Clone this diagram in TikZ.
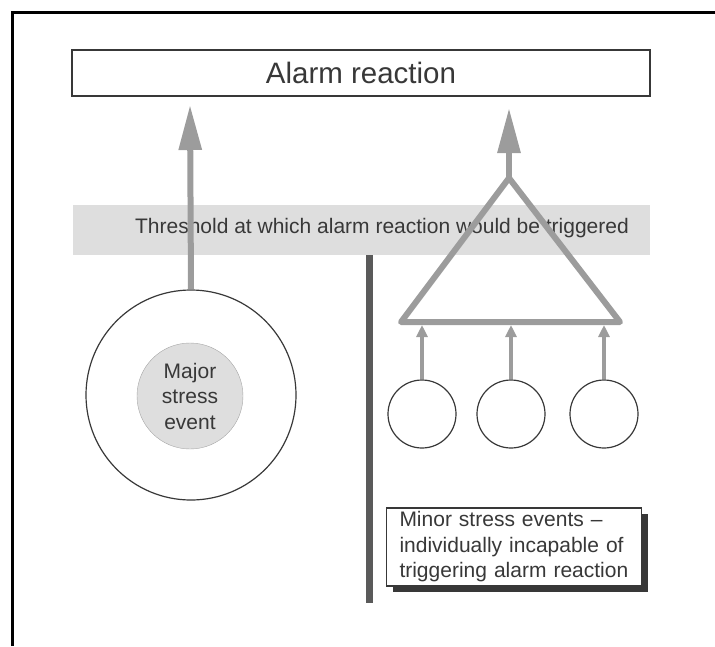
\documentclass[tikz,border=0pt]{standalone}
\usepackage{fontspec}
\setmainfont{Liberation Sans}
\usepackage{tikz}
\usetikzlibrary{arrows.meta,positioning,shadows}
\definecolor{ink}{HTML}{383838}
\definecolor{hatch}{HTML}{9C9C9C}
\definecolor{bandgray}{HTML}{DEDEDE}
\definecolor{bargray}{HTML}{5A5A5A}
\tikzset{
  alarmbox/.style={ draw=ink, line width=2pt, minimum width=578pt, minimum height=46pt,
    text=ink, font=\fontsize{29.5}{33}\selectfont }
}
\tikzset{
  event/.style={ draw=ink, line width=1.2pt, circle, minimum size=68pt }
}
\tikzset{
  bigarrow/.style={ draw=hatch, line width=6pt, -{Triangle[length=45pt,width=22pt]} },
  smallarrow/.style={ draw=hatch, line width=4pt, -{Triangle[length=12pt,width=11pt]} }
}
\tikzset{
  txt/.style={ text=ink, font=\fontsize{21}{25.5}\selectfont }
}

\begin{document}
\begin{tikzpicture}[x=1pt, y=-1pt]
      \useasboundingbox (0,0) rectangle (715,646);

      % frame, cut at right and bottom
      \coordinate (fb) at (12,646);
      \coordinate (fc) at (12,12);
      \coordinate (fr) at (715,12);
      \draw[line width=3pt] (fb) -- (fc) -- (fr);

      \node[alarmbox] (alarm) at (361,73) {Alarm reaction};

      % threshold band
      \node[fill=bandgray, minimum width=577pt, minimum height=50pt, inner sep=0pt] (band) at (361.5,230) {};
      \node[txt] (thr) at (382,228) {Threshold at which alarm reaction would be triggered};

      % major event
      \node[circle, draw=ink, line width=1.2pt, minimum size=210pt] (outer) at (191,395) {};
      \node[circle, draw=gray!70, fill=bandgray, minimum size=106pt, align=center, txt] (major) at (190,396) {Major\\stress\\event};
      \coordinate (tipL) at (190,105);
      \draw[bigarrow] (outer.north) -- (tipL);

      % divider
      \coordinate (barT) at (369,255);
      \coordinate (barB) at (369,603);
      \draw[bargray, line width=7pt] (barT) -- (barB);

      % minor events
      \coordinate (apex) at (509,178);
      \coordinate (baseL) at (401,322);
      \coordinate (baseR) at (620,322);
      \draw[hatch, line width=6pt, line join=round] (apex) -- (baseL) -- (baseR) -- cycle;
      \coordinate (tipR) at (509,108);
      \draw[bigarrow] (apex) -- (tipR);

      \node[event] (m1) at (422,414) {};
      \node[event] (m2) at (511,414) {};
      \node[event] (m3) at (604,414) {};
      \coordinate (b1) at (422,325);
      \coordinate (b2) at (511,325);
      \coordinate (b3) at (604,325);
      \draw[smallarrow] (m1.north) -- (b1);
      \draw[smallarrow] (m2.north) -- (b2);
      \draw[smallarrow] (m3.north) -- (b3);

      \node[draw=ink, line width=1.2pt, fill=white, txt, align=left, text width=229pt, inner xsep=13pt,
        minimum height=78pt, drop shadow={shadow xshift=6pt, shadow yshift=-6pt, fill=ink, opacity=1}]
        (minor) at (514,547) {Minor stress events --\\individually incapable of\\triggering alarm reaction};
    \end{tikzpicture}
\end{document}
